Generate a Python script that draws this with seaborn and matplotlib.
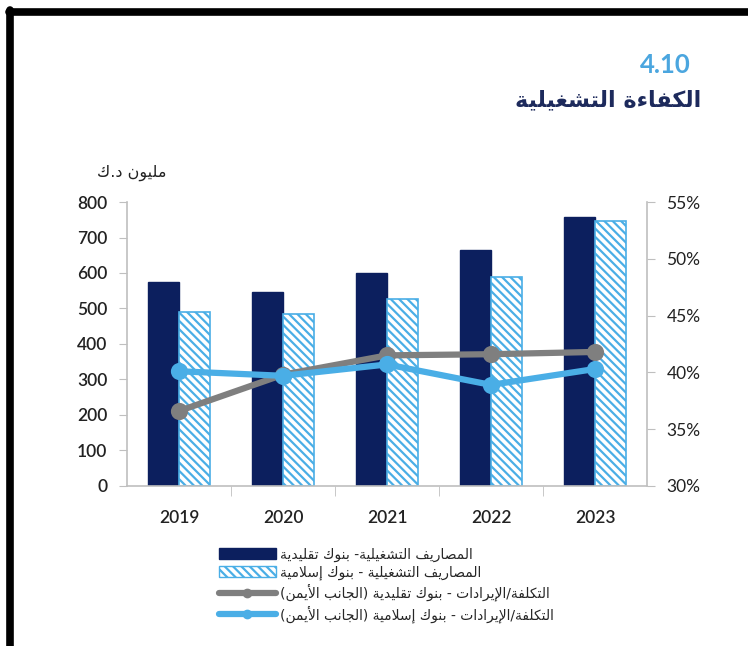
import pandas as pd
import matplotlib
matplotlib.use("Agg")
import matplotlib.pyplot as plt
import seaborn as sns
from matplotlib.lines import Line2D
from matplotlib.patches import Patch

# Données
annees = ["2019", "2020", "2021", "2022", "2023"]
depenses_trad = [575, 546, 600, 665, 758]
depenses_islam = [490, 485, 527, 589, 746]
ratio_trad = [36.6, 39.8, 41.5, 41.6, 41.8]
ratio_islam = [40.1, 39.7, 40.7, 38.9, 40.3]

titre_num = "4.10"
titre = "الكفاءة التشغيلية"
unite = "مليون د.ك"
noms = [
    "المصاريف التشغيلية- بنوك تقليدية",
    "المصاريف التشغيلية - بنوك إسلامية",
    "التكلفة/الإيرادات - بنوك تقليدية (الجانب الأيمن)",
    "التكلفة/الإيرادات - بنوك إسلامية (الجانب الأيمن)",
]

# Mise en forme de l'arabe (formes contextuelles + ordre visuel)
FORMES = {
    "ء": (0xFE80,), "آ": (0xFE81, 0xFE82), "أ": (0xFE83, 0xFE84),
    "ؤ": (0xFE85, 0xFE86), "إ": (0xFE87, 0xFE88),
    "ئ": (0xFE89, 0xFE8A, 0xFE8B, 0xFE8C), "ا": (0xFE8D, 0xFE8E),
    "ب": (0xFE8F, 0xFE90, 0xFE91, 0xFE92), "ة": (0xFE93, 0xFE94),
    "ت": (0xFE95, 0xFE96, 0xFE97, 0xFE98), "ث": (0xFE99, 0xFE9A, 0xFE9B, 0xFE9C),
    "ج": (0xFE9D, 0xFE9E, 0xFE9F, 0xFEA0), "ح": (0xFEA1, 0xFEA2, 0xFEA3, 0xFEA4),
    "خ": (0xFEA5, 0xFEA6, 0xFEA7, 0xFEA8), "د": (0xFEA9, 0xFEAA),
    "ذ": (0xFEAB, 0xFEAC), "ر": (0xFEAD, 0xFEAE), "ز": (0xFEAF, 0xFEB0),
    "س": (0xFEB1, 0xFEB2, 0xFEB3, 0xFEB4), "ش": (0xFEB5, 0xFEB6, 0xFEB7, 0xFEB8),
    "ص": (0xFEB9, 0xFEBA, 0xFEBB, 0xFEBC), "ض": (0xFEBD, 0xFEBE, 0xFEBF, 0xFEC0),
    "ط": (0xFEC1, 0xFEC2, 0xFEC3, 0xFEC4), "ظ": (0xFEC5, 0xFEC6, 0xFEC7, 0xFEC8),
    "ع": (0xFEC9, 0xFECA, 0xFECB, 0xFECC), "غ": (0xFECD, 0xFECE, 0xFECF, 0xFED0),
    "ف": (0xFED1, 0xFED2, 0xFED3, 0xFED4), "ق": (0xFED5, 0xFED6, 0xFED7, 0xFED8),
    "ك": (0xFED9, 0xFEDA, 0xFEDB, 0xFEDC), "ل": (0xFEDD, 0xFEDE, 0xFEDF, 0xFEE0),
    "م": (0xFEE1, 0xFEE2, 0xFEE3, 0xFEE4), "ن": (0xFEE5, 0xFEE6, 0xFEE7, 0xFEE8),
    "ه": (0xFEE9, 0xFEEA, 0xFEEB, 0xFEEC), "و": (0xFEED, 0xFEEE),
    "ى": (0xFEEF, 0xFEF0), "ي": (0xFEF1, 0xFEF2, 0xFEF3, 0xFEF4),
    "لآ": (0xFEF5, 0xFEF6), "لأ": (0xFEF7, 0xFEF8),
    "لإ": (0xFEF9, 0xFEFA), "لا": (0xFEFB, 0xFEFC),
}


def arabe(texte):
    lettres = []
    i = 0
    while i < len(texte):
        if texte[i] == "ل" and i + 1 < len(texte) and texte[i:i + 2] in FORMES:
            lettres.append(texte[i:i + 2])
            i += 2
        else:
            lettres.append(texte[i])
            i += 1
    res = []
    for k, c in enumerate(lettres):
        if c not in FORMES:
            res.append(c)
            continue
        f = FORMES[c]
        prev = lettres[k - 1] if k > 0 else None
        nxt = lettres[k + 1] if k + 1 < len(lettres) else None
        joint_avant = prev in FORMES and len(FORMES[prev]) == 4 and len(f) > 1
        joint_apres = len(f) == 4 and nxt in FORMES and len(FORMES[nxt]) > 1
        if joint_avant and joint_apres:
            res.append(chr(f[3]))
        elif joint_apres:
            res.append(chr(f[2]))
        elif joint_avant:
            res.append(chr(f[1]))
        else:
            res.append(chr(f[0]))
    visuel = "".join(reversed(res))
    return visuel.translate(str.maketrans("()", ")("))


# Couleurs
bleu_fonce = "#0c1f5e"
bleu_clair = "#4aaee6"
gris = "#7f7f7f"

df = pd.DataFrame({
    "annee": annees * 2,
    "valeur": depenses_trad + depenses_islam,
    "serie": [noms[0]] * 5 + [noms[1]] * 5,
})
df_ratio = pd.DataFrame({
    "annee": annees * 2,
    "valeur": ratio_trad + ratio_islam,
    "serie": [noms[2]] * 5 + [noms[3]] * 5,
})

sns.set_style("white")
plt.rcParams["font.family"] = ["Lato", "DejaVu Sans"]
plt.rcParams["hatch.linewidth"] = 1.6

fig = plt.figure(figsize=(7.48, 6.46), dpi=100)
ax = fig.add_axes([0.1698, 0.2477, 0.6952, 0.4396])

sns.barplot(data=df, x="annee", y="valeur", hue="serie",
            palette=[bleu_fonce, "white"], width=0.6, saturation=1,
            legend=False, ax=ax)
for p in ax.containers[0]:
    p.set_edgecolor(bleu_fonce)
for p in ax.containers[1]:
    p.set_edgecolor(bleu_clair)
    p.set_hatch("\\\\\\\\")
    p.set_linewidth(1.2)

ax.set_ylim(0, 800)
ax.set_xlim(-0.5, 4.5)
ax.set_yticks(range(0, 801, 100))
ax.set_xlabel("")
ax.set_ylabel("")

ax2 = ax.twinx()
sns.pointplot(data=df_ratio, x="annee", y="valeur", hue="serie",
              palette=[gris, bleu_clair], markers="o", markersize=9,
              linewidth=4.5, errorbar=None, legend=False, ax=ax2)
ax2.set_ylim(30, 55)
ax2.set_yticks(range(30, 56, 5))
ax2.set_yticklabels([f"{v}%" for v in range(30, 56, 5)])
ax2.set_ylabel("")
ax2.set_xlim(-0.5, 4.5)

# Axes et graduations
for a in (ax, ax2):
    for s in a.spines.values():
        s.set_visible(False)
ax.spines["left"].set_visible(True)
ax.spines["bottom"].set_visible(True)
ax2.spines["right"].set_visible(True)
for s in (ax.spines["left"], ax.spines["bottom"], ax2.spines["right"]):
    s.set_color("#bfbfbf")
    s.set_linewidth(1.2)

ax.tick_params(axis="y", left=True, length=6, color="#bfbfbf",
               labelsize=12.5, labelcolor="#222222", pad=8)
ax.tick_params(axis="x", bottom=False, labelsize=12.5, labelcolor="#222222", pad=14)
ax.set_xticks([0.5, 1.5, 2.5, 3.5], minor=True)
ax.tick_params(axis="x", which="minor", bottom=True, length=7, color="#bfbfbf")
ax2.tick_params(axis="y", right=True, length=6, color="#bfbfbf",
                labelsize=12.5, labelcolor="#222222", pad=8)
for lab in ax.get_yticklabels() + ax.get_xticklabels():
    lab.set_fontweight("semibold")

# Titres
fig.text(0.923, 0.899, titre_num, ha="right", va="center", fontsize=18.5,
         fontweight="bold", color="#4ba6df")
fig.text(0.937, 0.845, arabe(titre), ha="right", va="center", fontsize=16,
         fontweight="bold", color="#1d2a5c", family=["DejaVu Sans"])
fig.text(0.222, 0.733, arabe(unite), ha="right", va="center", fontsize=11.5,
         color="#222222", family=["DejaVu Sans"])

# Légende
poignees = [
    Patch(facecolor=bleu_fonce, edgecolor=bleu_fonce),
    Patch(facecolor="white", edgecolor=bleu_clair, hatch="\\\\\\\\"),
    Line2D([0], [0], color=gris, lw=4.5, marker="o", markersize=6),
    Line2D([0], [0], color=bleu_clair, lw=4.5, marker="o", markersize=6),
]
fig.legend(poignees, [arabe(n) for n in noms], loc="upper left",
           bbox_to_anchor=(0.276, 0.172), frameon=False,
           handlelength=4.1, handleheight=0.8, handletextpad=0.3,
           labelspacing=0.28, prop={"family": ["DejaVu Sans"], "size": 10})

# Cadre noir
fig.add_artist(Line2D([0.0125, 1.0], [0.9807, 0.9807], color="black", lw=5.5,
                      transform=fig.transFigure))
fig.add_artist(Line2D([0.0134, 0.0134], [0.0, 0.984], color="black", lw=5.5,
                      transform=fig.transFigure))

fig.savefig("out.png", dpi=100)
